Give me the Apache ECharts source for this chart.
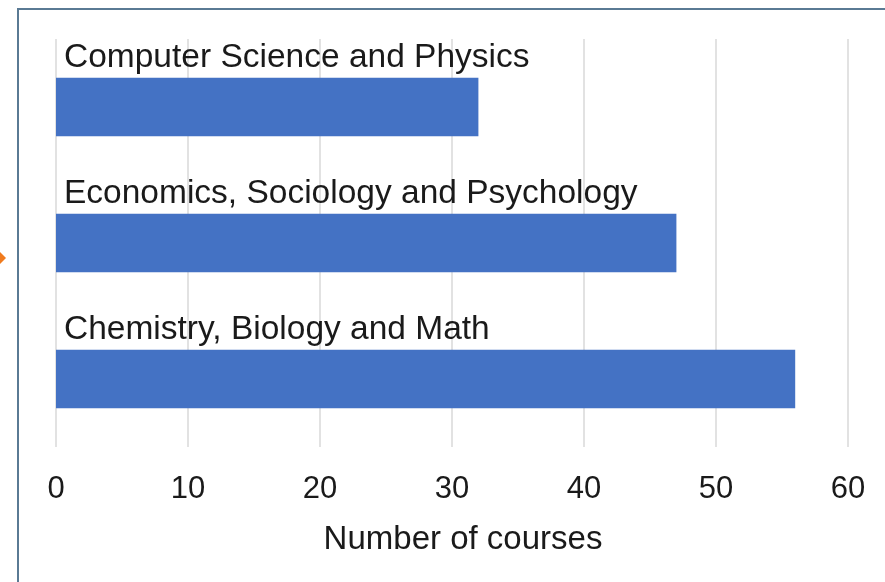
<!DOCTYPE html>
<html>
<head>
<meta charset="utf-8">
<script src="https://cdn.jsdelivr.net/npm/echarts@6/dist/echarts.min.js"></script>
<style>
html, body { margin: 0; padding: 0; background: #fff; }
#chart { width: 885px; height: 582px; }
</style>
</head>
<body>
<div id="chart"></div>
<script>
const categories = ['Computer Science and Physics', 'Economics, Sociology and Psychology', 'Chemistry, Biology and Math']
const courses = [32, 47, 56]
const xTicks = [0, 10, 20, 30, 40, 50, 60]

var chart = echarts.init(document.getElementById('chart'))
var font = 'Liberation Sans, Arial, sans-serif'

var option = {
    animation: false,
    backgroundColor: '#fff',
    grid: { left: 56, right: 37, top: 39, bottom: 135 },
    xAxis: {
        type: 'value',
        min: xTicks[0],
        max: xTicks[xTicks.length - 1],
        interval: 10,
        name: 'Number of courses',
        nameLocation: 'middle',
        nameGap: 76,
        nameTextStyle: { fontSize: 33, color: '#1a1a1a', fontFamily: font, padding: [0, 0, 0, 22] },
        axisLine: { show: false },
        axisTick: { show: false },
        axisLabel: { fontSize: 31, color: '#1a1a1a', fontFamily: font, margin: 27 },
        splitLine: { lineStyle: { color: '#d9d9d9', width: 1.5 } }
    },
    yAxis: {
        type: 'category',
        data: categories,
        inverse: true,
        axisLine: { show: false },
        axisTick: { show: false },
        axisLabel: { show: false }
    },
    series: [{
        type: 'bar',
        data: courses,
        barCategoryGap: '57%',
        itemStyle: { color: '#4472c4' },
        label: {
            show: true,
            position: [8, -20],
            align: 'left',
            verticalAlign: 'middle',
            formatter: '{b}',
            fontSize: 33.5,
            color: '#1a1a1a',
            fontFamily: font
        }
    }],
    graphic: [
        {
            type: 'rect',
            shape: { x: 18, y: 9, width: 900, height: 600 },
            style: { fill: 'none', stroke: '#5a7a94', lineWidth: 2 },
            silent: true
        },
        {
            type: 'polygon',
            shape: { points: [[0, 252], [6, 258], [0, 264]] },
            style: { fill: '#f07b1e' },
            silent: true
        }
    ]
}
chart.setOption(option)
</script>
</body>
</html>
